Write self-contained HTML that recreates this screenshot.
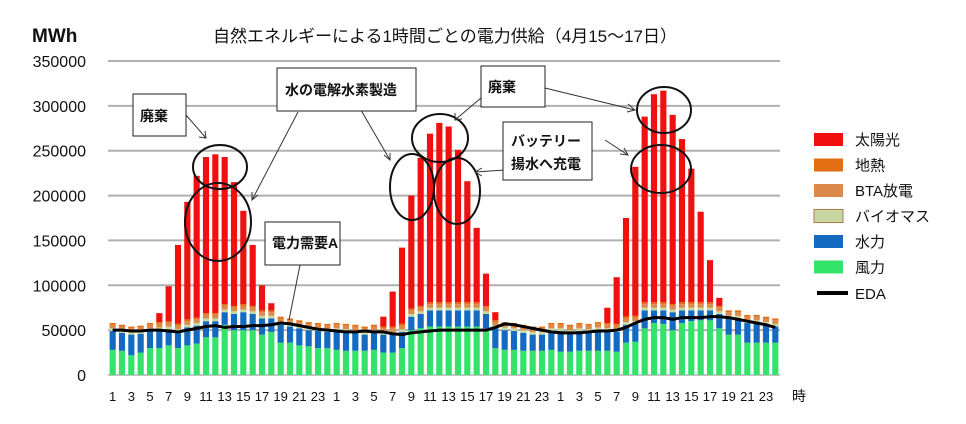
<!DOCTYPE html>
<html><head><meta charset="utf-8">
<style>
html,body{margin:0;padding:0;background:#fff;}
svg{display:block;font-family:"Liberation Sans","Noto Sans CJK JP",sans-serif;}
</style></head>
<body>
<svg id="chart" width="966" height="424" viewBox="0 0 966 424">
<text x="32" y="42" font-size="19" font-weight="bold" fill="#111">MWh</text>
<text x="445" y="42" font-size="17" text-anchor="middle" fill="#111">自然エネルギーによる1時間ごとの電力供給（4月15～17日）</text>
<g id="grid"></g>
<g id="bars"></g>
<g id="line"></g>
<g id="xlabels"></g>
<text x="792" y="401" font-size="14" fill="#111">時</text>
<g id="annotations" fill="none" stroke="#111" stroke-width="2">
<ellipse cx="220" cy="167" rx="27" ry="22"/>
<ellipse cx="218" cy="222" rx="33" ry="39"/>
<ellipse cx="440" cy="138" rx="28" ry="24"/>
<ellipse cx="412" cy="187" rx="22" ry="33"/>
<ellipse cx="457" cy="191" rx="23" ry="33"/>
<ellipse cx="664" cy="110" rx="27" ry="23"/>
<ellipse cx="661" cy="169" rx="30" ry="24"/>
</g>
<g stroke="#333" stroke-width="1" fill="none">
<line x1="186" y1="115" x2="206" y2="138"/><polyline points="199,137 206,138 205,131"/>
<line x1="298" y1="112" x2="252" y2="200"/><polyline points="252,192 252,200 258,195"/>
<line x1="358" y1="105" x2="390" y2="160"/><polyline points="384,155 390,160 390,153"/>
<line x1="481" y1="98" x2="455" y2="120"/><polyline points="455,113 455,120 462,119"/>
<line x1="545" y1="88" x2="635" y2="110"/><polyline points="628,104 635,110 627,112"/>
<line x1="505" y1="170" x2="475" y2="172"/><polyline points="482,168 475,172 482,176"/>
<line x1="605" y1="140" x2="628" y2="155"/><polyline points="620,154 628,155 624,148"/>
<line x1="300" y1="265" x2="289" y2="320"/>
</g>
<g font-size="14" font-weight="bold" fill="#111">
<rect x="133" y="94" width="53" height="42" fill="#fff" stroke="#222"/>
<text x="140" y="121">廃棄</text>
<rect x="277" y="68" width="139" height="43" fill="#fff" stroke="#222"/>
<text x="285" y="95">水の電解水素製造</text>
<rect x="481" y="66" width="64" height="41" fill="#fff" stroke="#222"/>
<text x="488" y="92">廃棄</text>
<rect x="503" y="122" width="89" height="58" fill="#fff" stroke="#222"/>
<text x="511" y="146">バッテリー</text>
<text x="511" y="169">揚水へ充電</text>
<rect x="265" y="222" width="75" height="43" fill="#fff" stroke="#222"/>
<text x="272" y="248">電力需要A</text>
</g>
<g id="legend" font-size="15" fill="#111"></g>
</svg>
<script>
const hours = [];
for (let d = 0; d < 3; d++) for (let h = 1; h <= 24; h++) hours.push(h);
const yTicks = [0,50000,100000,150000,200000,250000,300000,350000];
const wind = [28,27,22,25,30,30,33,30,33,35,42,42,56,50,50,50,45,48,36,36,33,32,30,30,
 28,27,27,27,28,25,25,30,50,52,54,54,54,54,54,54,52,30,28,28,27,27,27,28,
 26,26,27,27,27,27,26,36,37,52,58,57,50,58,60,61,61,52,45,45,36,36,36,36];
const hydro = [21,20,23,21,19,20,18,18,20,20,18,18,14,18,20,18,18,15,20,18,19,18,19,18,
 21,21,20,18,19,20,20,18,15,16,18,18,18,18,18,18,16,22,22,21,20,18,18,21,
 23,21,22,21,23,22,22,20,20,20,14,15,20,14,12,11,11,16,18,18,22,22,20,18];
const biomass = [3,3,3,3,3,3,3,3,3,3,3,3,3,3,3,3,3,3,3,3,3,3,3,3,
 3,3,3,3,3,3,3,3,3,3,3,3,3,3,3,3,3,3,3,3,3,3,3,3,
 3,3,3,3,3,3,3,3,3,3,3,3,3,3,3,3,3,3,3,3,3,3,3,3];
const bta = [4,4,4,4,4,4,4,4,4,4,4,4,4,4,4,4,4,4,4,4,4,4,4,4,
 4,4,4,4,4,4,4,4,4,4,4,4,4,4,4,4,4,4,4,4,4,4,4,4,
 4,4,4,4,4,4,4,4,4,4,4,4,4,4,4,4,4,4,4,4,4,4,4,4];
const geo = [2,2,2,2,2,2,2,2,2,2,2,2,2,2,2,2,2,2,2,2,2,2,2,2,
 2,2,2,2,2,2,2,2,2,2,2,2,2,2,2,2,2,2,2,2,2,2,2,2,
 2,2,2,2,2,2,2,2,2,2,2,2,2,2,2,2,2,2,2,2,2,2,2,2];
const solar = [0,0,0,0,0,10,39,88,131,158,174,177,164,138,104,68,28,8,0,0,0,0,0,0,
 0,0,0,0,0,11,39,85,126,165,188,200,196,170,135,83,36,9,0,0,0,0,0,0,
 0,0,0,0,0,17,52,110,166,207,232,236,211,182,149,101,47,9,0,0,0,0,0,0];
const eda = [50,50,49,49,50,50,49,48,50,52,54,55,53,54,54,55,55,56,58,57,55,53,51,50,
 49,48,48,49,48,48,46,45,47,48,49,50,50,50,50,50,50,53,57,56,54,52,50,48,
 47,47,47,48,49,49,50,53,58,62,64,64,62,64,64,64,65,65,64,62,60,58,56,53];
const seriesNames = ['風力','水力','バイオマス','BTA放電','地熱','太陽光'];
const NS='http://www.w3.org/2000/svg';
const X0=108, X1=780, Y0=375, Y1=61, YMAX=350000;
const n = hours.length, step=(X1-X0)/n, bw=step*0.66;
const yS = v => Y0 - v/YMAX*(Y0-Y1);
const xS = i => X0 + step*(i+0.5);
function mk(tag, parent, attrs){const e=document.createElementNS(NS,tag);for(const k in attrs)e.setAttribute(k,attrs[k]);parent.appendChild(e);return e;}
const grid=document.getElementById('grid');
yTicks.forEach(t=>{
  const l=mk('line',grid,{x1:X0,x2:X1,y1:yS(t),y2:yS(t),stroke:'#b0b0b0','stroke-width':t===0?1.5:2});
  
  
  const tx=mk('text',grid,{x:86,y:yS(t)+6,'font-size':16,'text-anchor':'end',fill:'#111'});
  tx.textContent=t;
  
  
});
const series=[wind,hydro,biomass,bta,geo,solar];
const colors=['#33e36a','#1469c1','#c6d8a0','#db8a4c','#e36f14','#f01010'];
const keys=['wind','hydro','biomass','bta','geo','solar'];
const bars=document.getElementById('bars');
for(let i=0;i<n;i++){
  let acc=0;
  series.forEach((s,k)=>{
    const v=s[i]*1000; if(v<=0) return;
    const r=mk('rect',bars,{x:xS(i)-bw/2,y:yS(acc+v),width:bw,height:yS(acc)-yS(acc+v),fill:colors[k]});
    
    
    acc+=v;
  });
}
const line=document.getElementById('line');
const p=mk('polyline',line,{points:eda.map((v,i)=>xS(i)+','+yS(v*1000)).join(' '),fill:'none',stroke:'#000','stroke-width':3,'stroke-linejoin':'round'});


const xl=document.getElementById('xlabels');
hours.forEach((h,i)=>{ if(h%2===1){
  const t=mk('text',xl,{x:xS(i),y:401,'font-size':13,'text-anchor':'middle',fill:'#111'});
  t.textContent=h;
  
  
}});
const lg=document.getElementById('legend');
const legendItems=[['太陽光','#f01010'],['地熱','#e36f14'],['BTA放電','#db8a4c'],['バイオマス','#c6d8a0'],['水力','#1469c1'],['風力','#33e36a']];
legendItems.forEach((it,j)=>{
  const y=139+j*25.5;
  const r=mk('rect',lg,{x:814,y:y-6,width:29,height:13,fill:it[1],stroke:j===3?'#b07a4a':'none'});
  
  
  const t=mk('text',lg,{x:855,y:y+6});
  t.textContent=it[0];
  
  
});
const ly=293;
const ll=mk('line',lg,{x1:817,x2:848,y1:ly,y2:ly,stroke:'#000','stroke-width':4});


const lt=mk('text',lg,{x:855,y:ly+6});
lt.textContent='EDA';


</script>
</body></html>
